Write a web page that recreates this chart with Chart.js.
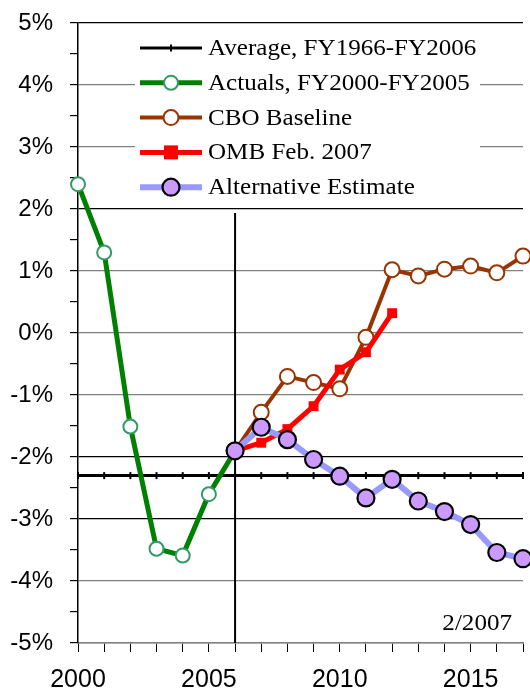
<!DOCTYPE html>
<html>
<head>
<meta charset="utf-8">
<script src="https://cdn.jsdelivr.net/npm/chart.js@4"></script>
<style>
html, body { margin: 0; padding: 0; background: #fff; }
canvas { display: block; }
</style>
</head>
<body>
<canvas id="deficitChart" width="530" height="696"></canvas>
<script>
// values (percent)
const avgYears = [2000, 2001, 2002, 2003, 2004, 2005, 2006, 2007, 2008, 2009, 2010, 2011, 2012, 2013, 2014, 2015, 2016, 2017];
const avgValue = -2.3;

const actualYears = [2000, 2001, 2002, 2003, 2004, 2005, 2006];
const actuals = [2.4, 1.3, -1.51, -3.48, -3.59, -2.6, -1.9];

const projYears = [2006, 2007, 2008, 2009, 2010, 2011, 2012, 2013, 2014, 2015, 2016, 2017];
const cboBaseline = [-1.9, -1.28, -0.7, -0.8, -0.9, -0.07, 1.02, 0.92, 1.03, 1.08, 0.97, 1.24];
const altEstimate = [-1.9, -1.52, -1.72, -2.04, -2.31, -2.66, -2.36, -2.71, -2.88, -3.09, -3.54, -3.64];

const ombYears = [2006, 2007, 2008, 2009, 2010, 2011, 2012];
const ombFeb2007 = [-1.9, -1.77, -1.55, -1.18, -0.59, -0.31, 0.32];

const xLabeledYears = [2000, 2005, 2010, 2015];
const darkGridValues = [5, 2, -2, -3];
const splitYear = 2006;
const noteText = '2/2007';

function toPoints(xs, ys) {
    return xs.map((x, i) => ({ x: x, y: ys[i] }));
}

// legend drawn inside the plot with a white box, plus the FY2006 divider and the date note
const overlayPlugin = {
    id: 'overlay',
    beforeDatasetsDraw(chart) {
        const { ctx, chartArea, scales } = chart;
        const x = scales.x.getPixelForValue(splitYear);
        ctx.save();
        ctx.beginPath();
        ctx.rect(chartArea.left, chartArea.top, chartArea.right - chartArea.left, chartArea.bottom - chartArea.top + 3);
        ctx.clip();
        ctx.strokeStyle = '#000';
        ctx.lineWidth = 2;
        ctx.beginPath();
        ctx.moveTo(x, scales.y.getPixelForValue(2) + 4);
        ctx.lineTo(x, scales.y.getPixelForValue(-5));
        ctx.stroke();
        ctx.beginPath();
        ctx.restore();
    },
    afterDraw(chart) {
        const { ctx, chartArea } = chart;
        const left = chartArea.left + 57;
        const top = chartArea.top + 7;
        ctx.save();
        ctx.fillStyle = '#fff';
        ctx.fillRect(left, top, 345, 176);

        chart.data.datasets.forEach((ds, i) => {
            const y = top + 18 + i * 34.8;
            const x0 = left + 5, x1 = left + 67, xm = (x0 + x1) / 2;
            ctx.strokeStyle = ds.borderColor;
            ctx.lineWidth = ds.borderWidth;
            ctx.beginPath();
            ctx.moveTo(x0, y);
            ctx.lineTo(x1, y);
            ctx.stroke();

            ctx.lineWidth = ds.pointBorderWidth;
            ctx.strokeStyle = ds.pointBorderColor;
            ctx.fillStyle = ds.pointBackgroundColor;
            const r = ds.pointRadius;
            if (ds.pointStyle === 'circle') {
                ctx.beginPath();
                ctx.arc(xm, y, r, 0, Math.PI * 2);
                ctx.fill();
                ctx.stroke();
            } else if (ds.pointStyle === 'rect') {
                ctx.fillRect(xm - r, y - r, r * 2, r * 2);
            } else {
                ctx.beginPath();
                ctx.moveTo(xm, y - r);
                ctx.lineTo(xm, y + r);
                ctx.stroke();
            }

            ctx.fillStyle = '#000';
            ctx.font = '23px "Liberation Serif"';
            ctx.textBaseline = 'middle';
            ctx.textAlign = 'left';
            ctx.save();
            ctx.translate(left + 73, y + 1);
            ctx.scale(1.09, 1);
            ctx.fillText(ds.label, 0, 0);
            ctx.restore();
        });

        ctx.font = '23px "Liberation Serif"';
        ctx.textAlign = 'right';
        ctx.textBaseline = 'alphabetic';
        ctx.save();
        ctx.translate(chartArea.right - 11, chartArea.bottom - 13);
        ctx.scale(1.09, 1);
        ctx.fillText(noteText, 0, 0);
        ctx.restore();
        ctx.restore();
    }
};

Chart.defaults.font.family = '"Liberation Sans", Arial, sans-serif';
Chart.defaults.color = '#000';

const ctx = document.getElementById('deficitChart').getContext('2d');
new Chart(ctx, {
    type: 'line',
    data: {
        datasets: [
            {
                label: 'Average, FY1966-FY2006',
                data: avgYears.map(x => ({ x: x, y: avgValue })),
                borderColor: '#000',
                borderWidth: 3,
                pointStyle: 'line',
                rotation: 90,
                pointRadius: 3.5,
                pointBorderWidth: 2,
                pointBorderColor: '#000',
                pointBackgroundColor: '#000',
                order: 5
            },
            {
                label: 'Actuals, FY2000-FY2005',
                data: toPoints(actualYears, actuals),
                borderColor: '#008000',
                borderWidth: 5,
                pointStyle: 'circle',
                pointRadius: 7,
                pointBorderWidth: 2,
                pointBorderColor: '#339966',
                pointBackgroundColor: '#fff',
                order: 4
            },
            {
                label: 'CBO Baseline',
                data: toPoints(projYears, cboBaseline),
                borderColor: '#993300',
                borderWidth: 4,
                pointStyle: 'circle',
                pointRadius: 7.5,
                pointBorderWidth: 2,
                pointBorderColor: '#993300',
                pointBackgroundColor: '#fff',
                order: 3
            },
            {
                label: 'OMB Feb. 2007',
                data: toPoints(ombYears, ombFeb2007),
                borderColor: '#ff0000',
                borderWidth: 5,
                pointStyle: 'rect',
                pointRadius: 7,
                pointBorderWidth: 0,
                pointBorderColor: '#ff0000',
                pointBackgroundColor: '#ff0000',
                order: 2
            },
            {
                label: 'Alternative Estimate',
                data: toPoints(projYears, altEstimate),
                borderColor: '#9999ff',
                borderWidth: 6,
                pointStyle: 'circle',
                pointRadius: 8.5,
                pointBorderWidth: 2.2,
                pointBorderColor: '#000',
                pointBackgroundColor: '#cc99ff',
                order: 1
            }
        ]
    },
    options: {
        responsive: false,
        animation: false,
        devicePixelRatio: 1,
        clip: false,
        layout: { autoPadding: false, padding: { top: 23, right: 7, left: 0, bottom: 0 } },
        plugins: {
            legend: { display: false },
            tooltip: { enabled: false }
        },
        elements: { line: { tension: 0 } },
        scales: {
            x: {
                type: 'linear',
                min: 2000,
                max: 2017,
                afterFit(scale) {
                    scale.height = 53;
                    scale.paddingLeft = 0;
                    scale.paddingRight = 0;
                },
                border: { color: '#808080', width: 1.5 },
                grid: { drawOnChartArea: false, drawTicks: true, tickLength: 9, tickColor: '#000' },
                ticks: {
                    stepSize: 1,
                    autoSkip: false,
                    maxRotation: 0,
                    padding: 13,
                    font: { size: 25 },
                    callback: v => xLabeledYears.includes(v) ? String(v) : ''
                }
            },
            y: {
                min: -5,
                max: 5,
                afterFit(scale) {
                    scale.width = 78;
                    scale.paddingTop = 0;
                    scale.paddingBottom = 0;
                },
                border: { color: '#000', width: 1.5 },
                grid: {
                    tickLength: 8,
                    tickColor: '#000',
                    lineWidth: 1.2,
                    color: c => {
                        const v = c.tick.value;
                        if (!Number.isInteger(v)) return 'rgba(0,0,0,0)';
                        return darkGridValues.includes(v) ? '#000' : '#808080';
                    }
                },
                ticks: {
                    stepSize: 0.5,
                    autoSkip: false,
                    padding: 17,
                    font: { size: 24 },
                    callback: v => Number.isInteger(v) ? v + '%' : ''
                }
            }
        }
    },
    plugins: [overlayPlugin]
});
</script>
</body>
</html>
